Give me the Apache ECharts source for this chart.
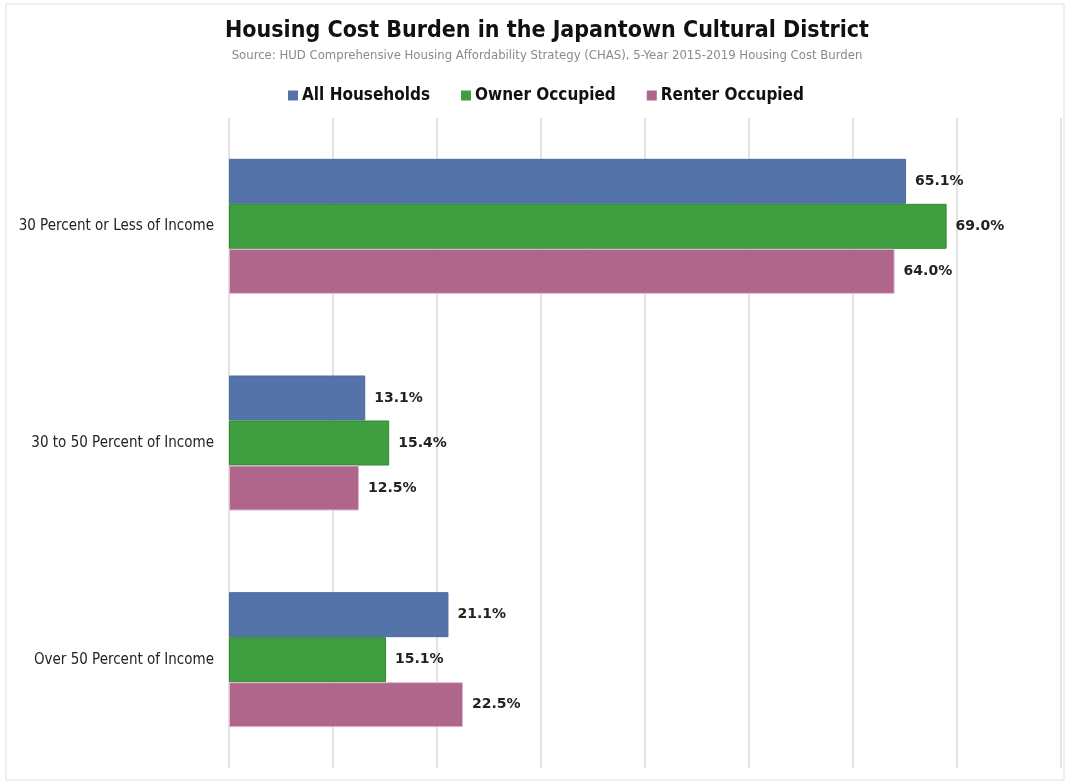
<!DOCTYPE html>
<html>
<head>
<meta charset="utf-8">
<script src="https://cdn.jsdelivr.net/npm/echarts@6/dist/echarts.min.js"></script>
<style>
  html, body { margin: 0; padding: 0; background: #fff; }
  #chartBar { width: 1068px; height: 782px; }
</style>
</head>
<body>
<div id="chartBar"></div>
<script>
const categories = ['30 Percent or Less of Income', '30 to 50 Percent of Income', 'Over 50 Percent of Income']
const allHouseholds = [65.1, 13.1, 21.1]
const ownerOccupied = [69.0, 15.4, 15.1]
const renterOccupied = [64.0, 12.5, 22.5]

const labelStyle = {
  show: true,
  position: 'right',
  distance: 9,
  fontFamily: 'DejaVu Sans',
  fontWeight: 'bold',
  fontSize: 14,
  color: '#222',
  formatter: (p) => p.value.toFixed(1) + '%'
}

const myChart = echarts.init(document.getElementById('chartBar'))
myChart.setOption({
  animation: false,
  title: {
    text: 'Housing Cost Burden in the Japantown Cultural District',
    subtext: 'Source: HUD Comprehensive Housing Affordability Strategy (CHAS), 5-Year 2015-2019 Housing Cost Burden',
    left: 542,
    textAlign: 'center',
    top: 15,
    itemGap: 7,
    textStyle: {
      fontFamily: 'DejaVu Sans Condensed',
      fontWeight: 'bold',
      fontSize: 23,
      color: '#111'
    },
    subtextStyle: {
      fontFamily: 'DejaVu Sans',
      fontSize: 11.7,
      color: '#8a8a8a'
    }
  },
  legend: {
    top: 82,
    left: 283,
    itemWidth: 10,
    itemHeight: 10,
    itemGap: 31,
    icon: 'rect',
    itemStyle: { borderWidth: 0 },
    textStyle: {
      fontFamily: 'DejaVu Sans Condensed',
      fontWeight: 'bold',
      fontSize: 17,
      color: '#111',
      padding: [0, 0, 0, -1]
    }
  },
  graphic: [{
    type: 'rect',
    shape: { x: 6, y: 4, width: 1058, height: 776 },
    style: { fill: 'none', stroke: '#e2e2e2', lineWidth: 1 },
    silent: true
  }],
  grid: {
    top: 118,
    left: 229,
    right: 7,
    bottom: 14
  },
  xAxis: {
    type: 'value',
    min: 0,
    max: 80,
    interval: 10,
    axisLabel: { show: false },
    axisLine: { show: false },
    axisTick: { show: false },
    splitLine: { lineStyle: { color: '#e3e3e3', width: 2 } }
  },
  yAxis: {
    type: 'category',
    data: categories,
    inverse: true,
    axisLine: { show: false },
    axisTick: { show: false },
    axisLabel: {
      margin: 15,
      fontFamily: 'DejaVu Sans Condensed',
      fontSize: 15,
      color: '#222'
    }
  },
  series: [
    {
      name: 'All Households',
      type: 'bar',
      data: allHouseholds,
      barWidth: 45,
      barGap: '0%',
      itemStyle: { color: 'rgba(75, 108, 164, 0.95)', borderColor: '#4a6aa0', borderWidth: 1 },
      label: labelStyle
    },
    {
      name: 'Owner Occupied',
      type: 'bar',
      data: ownerOccupied,
      barWidth: 45,
      barGap: '0%',
      itemStyle: { color: 'rgba(52, 153, 54, 0.95)', borderColor: '#2d8a30', borderWidth: 1 },
      label: labelStyle
    },
    {
      name: 'Renter Occupied',
      type: 'bar',
      data: renterOccupied,
      barWidth: 45,
      barGap: '0%',
      itemStyle: { color: 'rgba(172, 94, 133, 0.95)', borderColor: '#e0b8cc', borderWidth: 1 },
      label: labelStyle
    }
  ]
})
window.addEventListener('resize', () => {
  myChart.resize()
})
</script>
</body>
</html>
